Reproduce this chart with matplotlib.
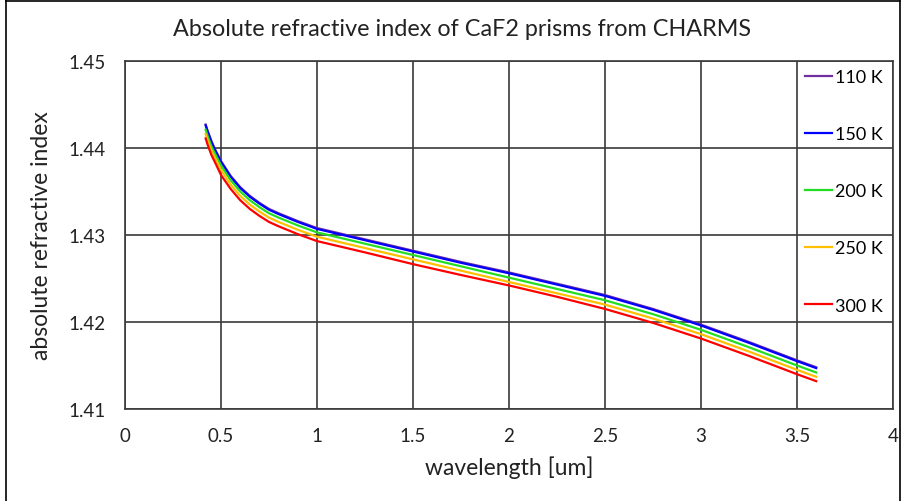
import matplotlib.pyplot as plt
from matplotlib.lines import Line2D

plt.rcParams['font.family'] = ['Lato', 'DejaVu Sans']

# wavelength [um]
wavelength = [0.42, 0.43, 0.45, 0.47, 0.5, 0.55, 0.6, 0.65, 0.7, 0.75, 0.8,
              0.9, 1.0, 1.25, 1.5, 1.75, 2.0, 2.25, 2.5, 2.75, 3.0, 3.25,
              3.5, 3.6]

n_110 = [1.4427, 1.4420, 1.4408, 1.4398, 1.4385, 1.4368, 1.4355, 1.4345,
         1.4337, 1.4330, 1.4325, 1.4316, 1.4308, 1.4295, 1.4282, 1.4269,
         1.4257, 1.4244, 1.4231, 1.4215, 1.4197, 1.4177, 1.4156, 1.4148]
n_150 = [1.4426, 1.4419, 1.4407, 1.4397, 1.4384, 1.4367, 1.4354, 1.4344,
         1.4336, 1.4329, 1.4324, 1.4315, 1.4307, 1.4294, 1.4281, 1.4268,
         1.4256, 1.4243, 1.4230, 1.4214, 1.4196, 1.4176, 1.4155, 1.4147]
n_200 = [1.4421, 1.4414, 1.4402, 1.4393, 1.4380, 1.4363, 1.4350, 1.4340,
         1.4332, 1.4325, 1.4320, 1.4311, 1.4303, 1.4290, 1.4277, 1.4264,
         1.4251, 1.4238, 1.4225, 1.4209, 1.4191, 1.4171, 1.4150, 1.4142]
n_250 = [1.4416, 1.4409, 1.4397, 1.4388, 1.4375, 1.4358, 1.4345, 1.4335,
         1.4327, 1.4320, 1.4315, 1.4306, 1.4298, 1.4285, 1.4272, 1.4259,
         1.4246, 1.4233, 1.4220, 1.4204, 1.4186, 1.4166, 1.4145, 1.4137]
n_300 = [1.4411, 1.4404, 1.4392, 1.4383, 1.4369, 1.4353, 1.4340, 1.4330,
         1.4322, 1.4315, 1.4310, 1.4301, 1.4293, 1.4280, 1.42665, 1.4254,
         1.4242, 1.4229, 1.4215, 1.4199, 1.4181, 1.4161, 1.4140, 1.4132]

labels = ['110 K', '150 K', '200 K', '250 K', '300 K']
colors = ['#7030A0', '#0000FF', '#22DD22', '#FFC000', '#FF0000']
series = [n_110, n_150, n_200, n_250, n_300]

xticks = [0, 0.5, 1, 1.5, 2, 2.5, 3, 3.5, 4]
xticklabels = ['0', '0.5', '1', '1.5', '2', '2.5', '3', '3.5', '4']
yticks = [1.41, 1.42, 1.43, 1.44, 1.45]
yticklabels = ['1.41', '1.42', '1.43', '1.44', '1.45']

W, H = 904, 502
fig = plt.figure(figsize=(W / 100, H / 100), dpi=100)
ax = fig.add_axes([125 / W, 1 - 410 / H, (893 - 125) / W, (410 - 62) / H])

for vals, lab, col in zip(series, labels, colors):
    ax.plot(wavelength, vals, color=col, lw=1.6, label=lab, zorder=3,
            solid_joinstyle='round')

ax.set_xlim(0, 4)
ax.set_ylim(1.41, 1.45)
ax.set_xticks(xticks)
ax.set_xticklabels(xticklabels)
ax.set_yticks(yticks)
ax.set_yticklabels(yticklabels)
ax.tick_params(length=0, labelsize=13.5, colors='#222222')
ax.tick_params(axis='x', pad=13)
ax.tick_params(axis='y', pad=14)
ax.grid(True, color='#3a3a3a', lw=1.2)
for s in ax.spines.values():
    s.set_color('#3a3a3a')
    s.set_linewidth(1.2)

ax.set_xlabel('wavelength [um]', fontsize=16.5, color='#222222', labelpad=8)
ax.set_ylabel('absolute refractive index', fontsize=16.5, color='#222222',
              labelpad=12)
fig.text(462 / W, 1 - 30 / H, 'Absolute refractive index of CaF2 prisms from CHARMS',
         ha='center', va='center', fontsize=16.8, color='#222222')

ax.legend(loc='upper left', bbox_to_anchor=(805 / W, 1 - 70 / H),
          bbox_transform=fig.transFigure, frameon=False, fontsize=13,
          handlelength=1.5, handletextpad=0.18, labelspacing=2.28,
          borderpad=0, borderaxespad=0)

# outer frame of the picture
for xs, ys in [([6, 6], [0, H]), ([6, 900], [2, 2]), ([900, 900], [2, H])]:
    fig.add_artist(Line2D([x / W for x in xs], [1 - y / H for y in ys],
                          color='black', lw=1.2))

fig.savefig('out.png', dpi=100)
